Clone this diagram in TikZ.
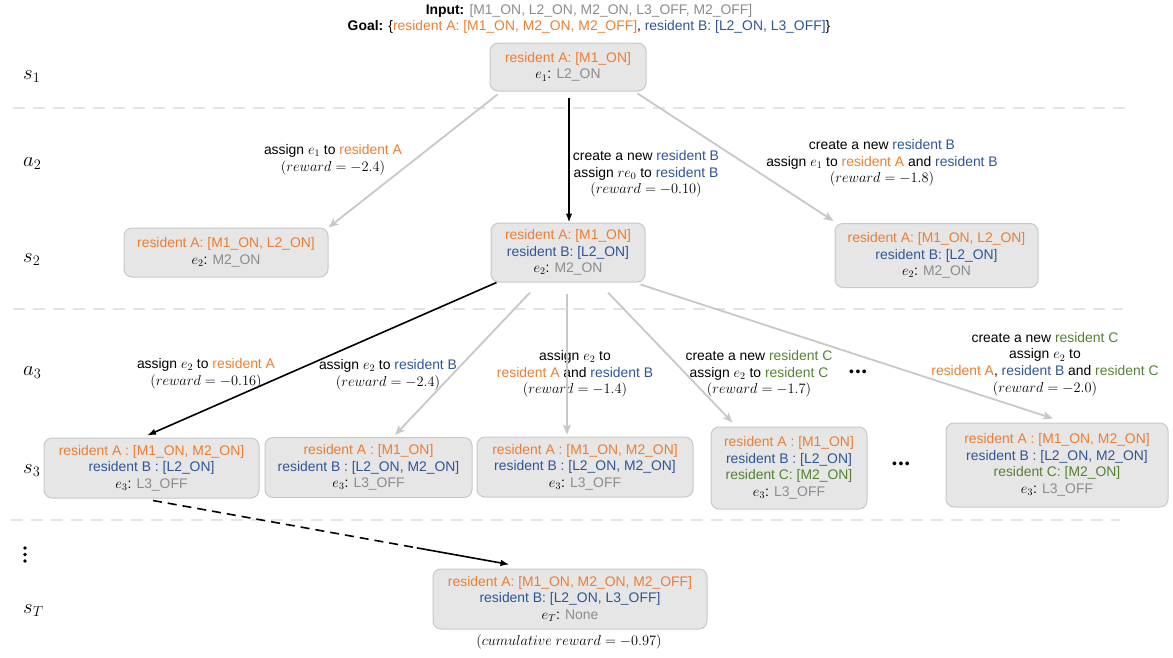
\documentclass[tikz,border=0pt]{standalone}
\usepackage{fontspec}
\setmainfont{Liberation Sans}
\usetikzlibrary{arrows.meta,calc}

\definecolor{orA}{HTML}{ED7D31}
\definecolor{blB}{HTML}{2F5597}
\definecolor{grC}{HTML}{548235}
\definecolor{gtxt}{HTML}{8C8C8C}
\definecolor{boxfill}{HTML}{E6E6E6}
\definecolor{boxline}{HTML}{C8C8C8}
\definecolor{arrgray}{HTML}{C8C8C8}
\definecolor{sepgray}{HTML}{C2C2C2}
\definecolor{sepinner}{HTML}{E4E4E4}

\newcommand{\bodyfont}{\fontsize{13.9}{16.6}\selectfont}
\newcommand{\resA}{\textcolor{orA}{resident A}}
\newcommand{\resB}{\textcolor{blB}{resident B}}
\newcommand{\resC}{\textcolor{grC}{resident C}}
\newcommand{\graytxt}[1]{\textcolor{gtxt}{#1}}

\tikzset{
  state/.style={draw=boxline, fill=boxfill, line width=1pt, rounded corners=8pt,
    align=center, inner sep=0pt, font=\bodyfont},
  lbl/.style={align=center, inner sep=0pt, font=\bodyfont},
  rowlbl/.style={anchor=base west, inner sep=0pt, font=\fontsize{20}{24}\selectfont},
  vdot/.style={circle, fill=black, inner sep=0pt, minimum size=3.6pt},
  grayarrow/.style={draw=arrgray, line width=1.8pt,
    -{Stealth[length=10pt,width=8pt,inset=2.5pt]}},
  blackarrow/.style={draw=black, line width=1.6pt, -{Latex[length=9pt,width=6.5pt]}},
  blackline/.style={draw=black, line width=1.6pt},
  separator/.style={draw=sepgray, line width=0.8pt, double=sepinner,
    double distance=1.3pt, dash pattern=on 12pt off 8pt},
}

\begin{document}
\begin{tikzpicture}[x=1pt, y=-1pt]
\useasboundingbox (0,0) rectangle (1173,657);

% header
\node[lbl] (hdrin) at (589,11) {\textbf{Input:} \graytxt{[M1\_ON, L2\_ON, M2\_ON, L3\_OFF, M2\_OFF]}};
\node[lbl] (hdrgoal) at (589,27) {\textbf{Goal:} \{\textcolor{orA}{resident A: [M1\_ON, M2\_ON, M2\_OFF]}, \textcolor{blB}{resident B: [L2\_ON, L3\_OFF]}\}};

% row labels
\node[rowlbl] (rs1) at (23,79) {$s_1$};
\node[rowlbl] (ra2) at (23,166) {$a_2$};
\node[rowlbl] (rs2) at (23,262) {$s_2$};
\node[rowlbl] (ra3) at (23,375) {$a_3$};
\node[rowlbl] (rs3) at (23,473) {$s_3$};
\node[rowlbl] (rsT) at (23,613) {$s_T$};
\node[vdot] (vd1) at (25,548) {};
\node[vdot] (vd2) at (25,554.5) {};
\node[vdot] (vd3) at (25,561) {};

% separators
\draw[separator] (13,108) -- (1125,108);
\draw[separator] (13,309) -- (1123,309);
\draw[separator] (11,520) -- (1120,520);

% states
\node[state, minimum width=156pt, minimum height=48pt] (s1) at (568,67)
  {\textcolor{orA}{resident A: [M1\_ON]}\\$e_1$: \graytxt{L2\_ON}};

\node[state, minimum width=204pt, minimum height=49pt] (s2a) at (226,252.5)
  {\textcolor{orA}{resident A: [M1\_ON, L2\_ON]}\\$e_2$: \graytxt{M2\_ON}};
\node[state, minimum width=154pt, minimum height=59pt] (s2b) at (568,252.5)
  {\textcolor{orA}{resident A: [M1\_ON]}\\\textcolor{blB}{resident B: [L2\_ON]}\\$e_2$: \graytxt{M2\_ON}};
\node[state, minimum width=203pt, minimum height=64pt] (s2c) at (936.5,255.5)
  {\textcolor{orA}{resident A: [M1\_ON, L2\_ON]}\\\textcolor{blB}{resident B: [L2\_ON]}\\$e_2$: \graytxt{M2\_ON}};

\node[state, minimum width=215pt, minimum height=60pt] (s3a) at (151.5,468)
  {\textcolor{orA}{resident A : [M1\_ON, M2\_ON]}\\\textcolor{blB}{resident B : [L2\_ON]}\\$e_3$: \graytxt{L3\_OFF}};
\node[state, minimum width=207pt, minimum height=60pt] (s3b) at (368.5,467.5)
  {\textcolor{orA}{resident A : [M1\_ON]}\\\textcolor{blB}{resident B : [L2\_ON, M2\_ON]}\\$e_3$: \graytxt{L3\_OFF}};
\node[state, minimum width=216pt, minimum height=60pt] (s3c) at (585,467)
  {\textcolor{orA}{resident A : [M1\_ON, M2\_ON]}\\\textcolor{blB}{resident B : [L2\_ON, M2\_ON]}\\$e_3$: \graytxt{L3\_OFF}};
\node[state, minimum width=156pt, minimum height=82pt] (s3d) at (789,468)
  {\textcolor{orA}{resident A : [M1\_ON]}\\\textcolor{blB}{resident B : [L2\_ON]}\\\textcolor{grC}{resident C: [M2\_ON]}\\$e_3$: \graytxt{L3\_OFF}};
\node[lbl] (dots2) at (901,465) {•\hspace{1.5pt}•\hspace{1.5pt}•};
\node[state, minimum width=222pt, minimum height=84pt] (s3e) at (1057,465)
  {\textcolor{orA}{resident A : [M1\_ON, M2\_ON]}\\\textcolor{blB}{resident B : [L2\_ON, M2\_ON]}\\\textcolor{grC}{resident C: [M2\_ON]}\\$e_3$: \graytxt{L3\_OFF}};

\node[state, minimum width=274pt, minimum height=60pt] (sT) at (570,599)
  {\textcolor{orA}{resident A: [M1\_ON, M2\_ON, M2\_OFF]}\\\textcolor{blB}{resident B: [L2\_ON, L3\_OFF]}\\$e_T$: \graytxt{None}};
\node[lbl] (cumrew) at (569,642) {$(cumulative\ reward = -0.97)$};

% action labels, first step
\node[lbl] (l12a) at (333,159.5) {assign $e_1$ to \resA\\$(reward = -2.4)$};
\node[lbl] (l12b) at (646,174) {create a new \resB\\assign $re_0$ to \resB\\$(reward = -0.10)$};
\node[lbl] (l12c) at (882,163) {create a new \resB\\assign $e_1$ to \resA{} and \resB\\$(reward = -1.8)$};

% action labels, second step
\node[lbl] (l23a) at (206,373.5) {assign $e_2$ to \resA\\$(reward = -0.16)$};
\node[lbl] (l23b) at (388,374.5) {assign $e_2$ to \resB\\$(reward = -2.4)$};
\node[lbl] (l23c) at (575,374) {assign $e_2$ to\\\resA{} and \resB\\$(reward = -1.4)$};
\node[lbl] (l23d) at (759,374) {create a new \resC\\assign $e_2$ to \resC\\$(reward = -1.7)$};
\node[lbl] (dots1) at (858,373) {•\hspace{1.5pt}•\hspace{1.5pt}•};
\node[lbl] (l23e) at (1045,364) {create a new \resC\\assign $e_2$ to\\\resA, \resB{} and \resC\\$(reward = -2.0)$};

% transitions s1 -> s2
\draw[grayarrow] ([shift={(8,3)}]s1.south west) -- (s2a.north east);
\draw[blackarrow] ([shift={(1,6)}]s1.south) -- ([xshift=1pt]s2b.north);
\draw[grayarrow] ([shift={(-9,2)}]s1.south east) -- ([shift={(-1,-2)}]s2c.north west);

% transitions s2 -> s3
\draw[blackarrow] ([xshift=6pt]s2b.south west) -- ([shift={(-4.5,-2)}]s3a.north);
\draw[grayarrow] ([shift={(-38,10)}]s2b.south) -- ([shift={(26.5,-2)}]s3b.north);
\draw[grayarrow] ([shift={(-1,11)}]s2b.south) -- ([shift={(-18,-2)}]s3c.north);
\draw[grayarrow] ([shift={(40,10)}]s2b.south) -- ([shift={(22,-4)}]s3d.north west);
\draw[grayarrow] ([shift={(-5,2)}]s2b.south east) -- ([shift={(-4,-4)}]s3e.north);

% remaining steps up to the terminal state
\coordinate (e9s) at ([shift={(1.5,2)}]s3a.south);
\coordinate (e9e) at ([shift={(77,-4)}]sT.north west);
\draw[blackline, dash pattern=on 9pt off 6pt] (e9s) -- ($(e9s)!0.74!(e9e)$) coordinate (e9m);
\draw[blackarrow] (e9m) -- (e9e);
\end{tikzpicture}
\end{document}
